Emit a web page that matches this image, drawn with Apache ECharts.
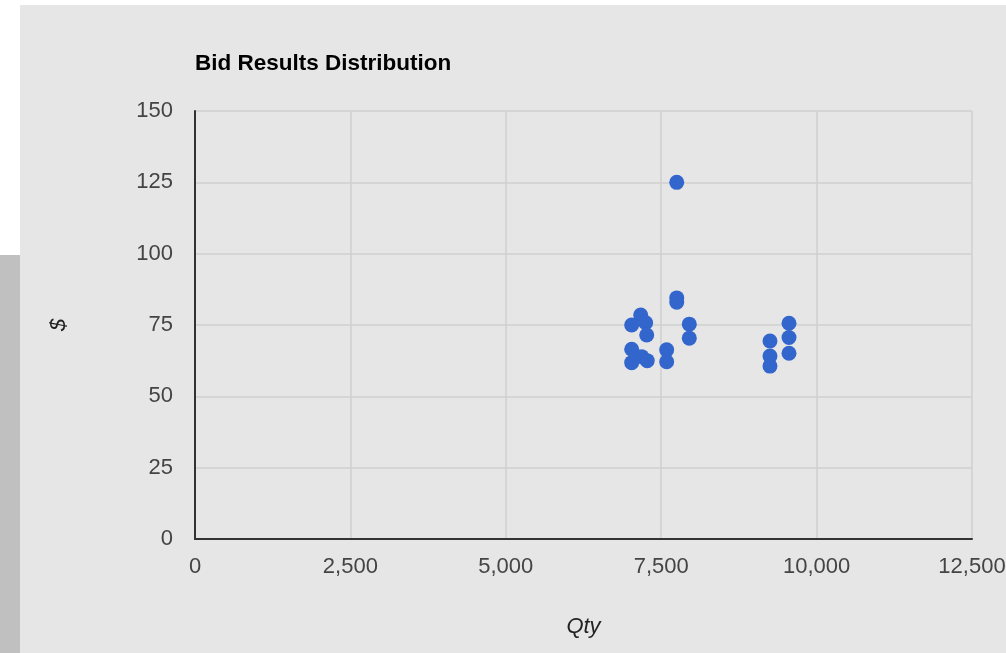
<!DOCTYPE html>
<html>
<head>
<meta charset="utf-8">
<script src="https://cdn.jsdelivr.net/npm/echarts@6/dist/echarts.min.js"></script>
<style>
html,body{margin:0;padding:0;background:#fff;width:1006px;height:653px;overflow:hidden;position:relative;}
#bg{position:absolute;left:20px;top:5px;width:986px;height:648px;background:#e6e6e6;}
#strip{position:absolute;left:0;top:255px;width:20px;height:398px;background:#c0c0c0;}
#chart{position:absolute;left:0;top:0;width:1006px;height:653px;}
</style>
</head>
<body>
<div id="bg"></div>
<div id="strip"></div>
<div id="chart"></div>
<script>
const titleText = "Bid Results Distribution";
const xName = "Qty";
const yName = "$";
const xTicks = [0, 2500, 5000, 7500, 10000, 12500];
const yTicks = [0, 25, 50, 75, 100, 125, 150];
const qty = [7750, 7750, 7750, 7170, 7025, 7250, 7267, 7025, 7025, 7186, 7275, 7588, 7588, 7952, 7952, 9556, 9556, 9556, 9250, 9250, 9250];
const price = [125, 84.5, 83, 78.5, 75, 75.8, 71.5, 66.5, 61.8, 63.9, 62.5, 66.3, 62.1, 75.3, 70.4, 75.6, 70.6, 65.1, 69.4, 64.1, 60.6];

const points = qty.map((q, i) => [q, price[i]]);
const font = "'Liberation Sans', Arial, sans-serif";
const chart = echarts.init(document.getElementById('chart'), null, {renderer: 'canvas'});
chart.setOption({
  animation: false,
  backgroundColor: 'transparent',
  title: {
    text: titleText,
    left: 195, top: 52, padding: 0,
    textStyle: {fontFamily: font, fontSize: 22.5, fontWeight: 'bold', color: '#000'}
  },
  grid: {left: 195, right: 34, top: 111, bottom: 114, containLabel: false, outerBoundsMode: 'none'},
  xAxis: {
    type: 'value',
    min: xTicks[0], max: xTicks[xTicks.length - 1], interval: xTicks[1] - xTicks[0],
    name: xName, nameLocation: 'middle', nameGap: 77,
    nameTextStyle: {fontFamily: font, fontSize: 22, fontStyle: 'italic', color: '#222'},
    axisLine: {show: true, onZero: false, lineStyle: {color: '#333', width: 2}},
    axisTick: {show: false},
    splitLine: {show: true, lineStyle: {color: '#cfcfcf', width: 1.5}},
    axisLabel: {fontFamily: font, fontSize: 22, color: '#444', margin: 17,
      formatter: v => v.toLocaleString('en-US')}
  },
  yAxis: {
    type: 'value',
    min: yTicks[0], max: yTicks[yTicks.length - 1], interval: yTicks[1] - yTicks[0],
    name: yName, nameLocation: 'middle', nameGap: 125, nameRotate: 90,
    nameTextStyle: {fontFamily: font, fontSize: 22, fontStyle: 'italic', color: '#222'},
    axisLine: {show: true, onZero: false, lineStyle: {color: '#333', width: 2}},
    axisTick: {show: false},
    splitLine: {show: true, lineStyle: {color: '#cfcfcf', width: 1.5}},
    axisLabel: {fontFamily: font, fontSize: 22, color: '#444', margin: 22, padding: [2, 0, 0, 0]}
  },
  series: [{
    type: 'scatter',
    data: points,
    symbol: 'circle',
    symbolSize: 15,
    itemStyle: {color: '#3366cc', opacity: 1},
    silent: true
  }]
});
</script>
</body>
</html>
